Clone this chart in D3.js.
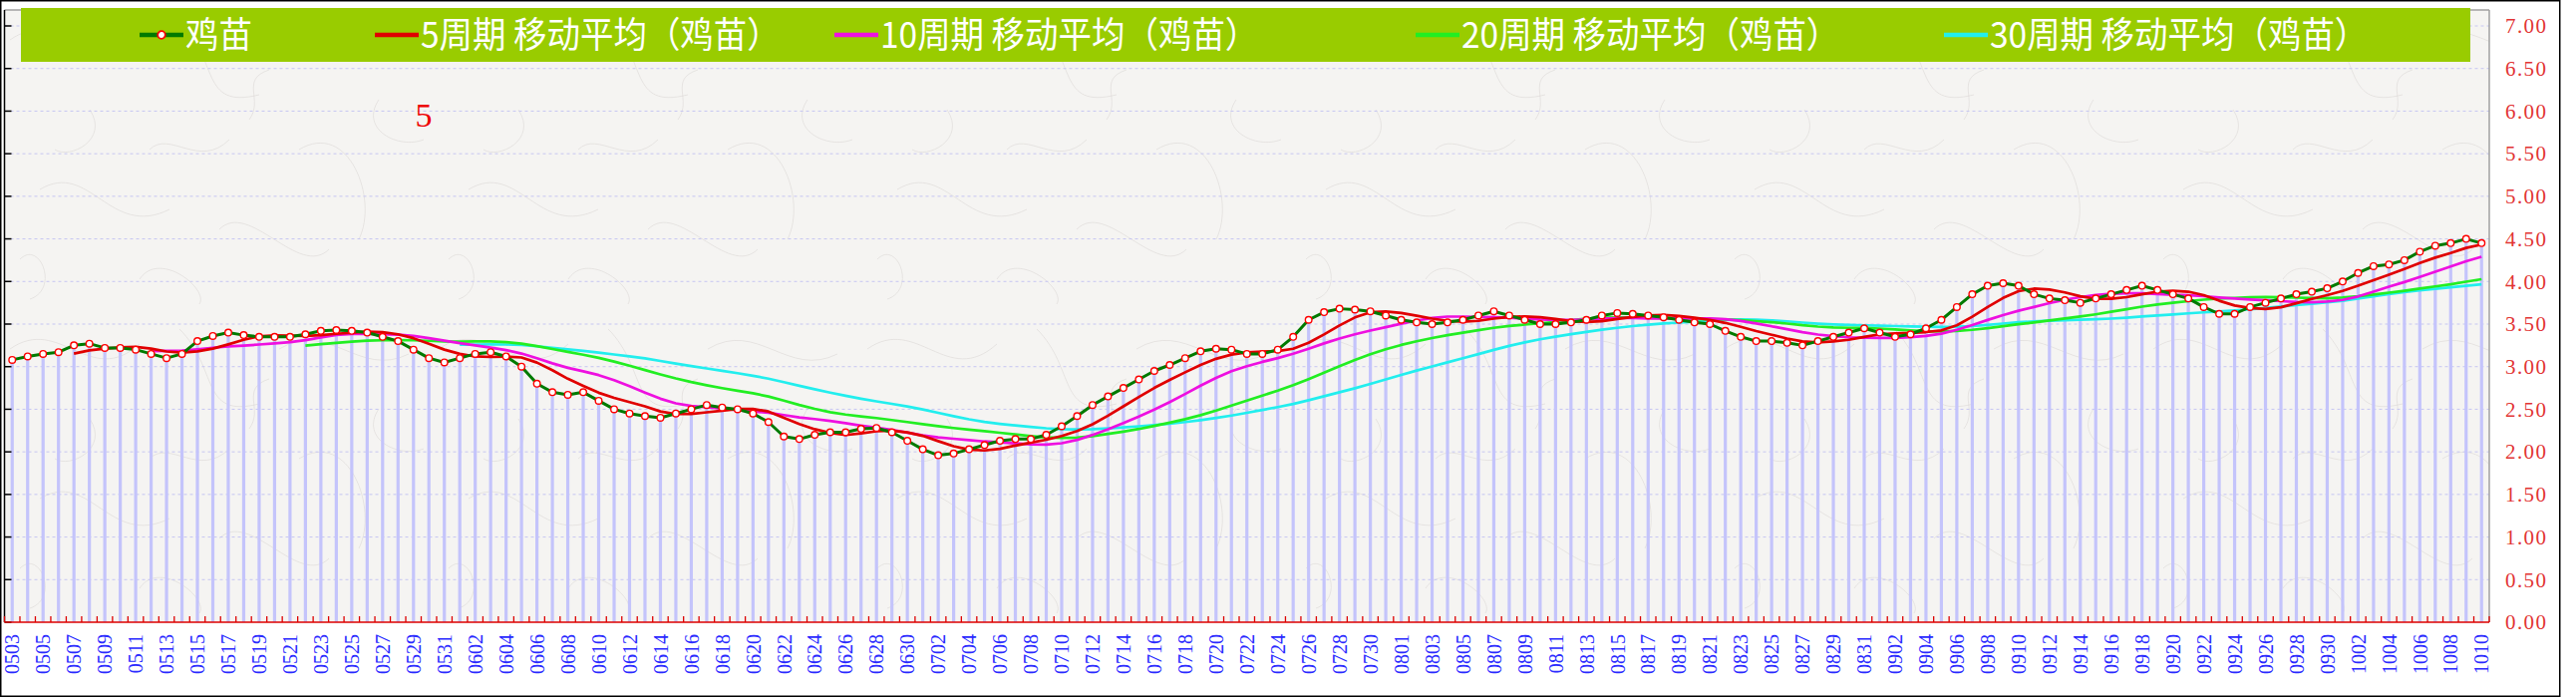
<!DOCTYPE html>
<html><head><meta charset="utf-8">
<script src="https://cdnjs.cloudflare.com/ajax/libs/d3/7.8.5/d3.min.js"></script>
<style>html,body{margin:0;padding:0;background:#fff;}svg{display:block;}</style>
</head><body>
<svg id="chart" width="2584" height="700"></svg>
<script>
// ---------------- DATA ----------------
const dates = [
"0503","0504","0505","0506","0507","0508","0509","0510","0511","0512","0513","0514","0515","0516","0517","0518","0519","0520","0521","0522","0523","0524","0525","0526","0527","0528","0529","0530","0531",
"0601","0602","0603","0604","0605","0606","0607","0608","0609","0610","0611","0612","0613","0614","0615","0616","0617","0618","0619","0620","0621","0622","0623","0624","0625","0626","0627","0628","0629","0630",
"0701","0702","0703","0704","0705","0706","0707","0708","0709","0710","0711","0712","0713","0714","0715","0716","0717","0718","0719","0720","0721","0722","0723","0724","0725","0726","0727","0728","0729","0730","0731",
"0801","0802","0803","0804","0805","0806","0807","0808","0809","0810","0811","0812","0813","0814","0815","0816","0817","0818","0819","0820","0821","0822","0823","0824","0825","0826","0827","0828","0829","0830","0831",
"0901","0902","0903","0904","0905","0906","0907","0908","0909","0910","0911","0912","0913","0914","0915","0916","0917","0918","0919","0920","0921","0922","0923","0924","0925","0926","0927","0928","0929","0930",
"1001","1002","1003","1004","1005","1006","1007","1008","1009","1010"];

const prices = [
3.08,3.12,3.15,3.17,3.25,3.27,3.22,3.22,3.20,3.15,3.10,3.15,3.30,3.36,3.40,3.37,3.35,3.35,3.35,3.38,3.42,3.43,3.42,3.40,3.35,3.30,3.20,3.10,3.05,
3.10,3.15,3.17,3.12,3.00,2.80,2.70,2.67,2.70,2.60,2.50,2.45,2.42,2.40,2.45,2.50,2.55,2.52,2.50,2.45,2.35,2.18,2.15,2.20,2.23,2.23,2.27,2.28,2.23,2.13,
2.03,1.96,1.98,2.03,2.08,2.13,2.15,2.15,2.20,2.30,2.42,2.55,2.65,2.75,2.85,2.95,3.02,3.10,3.18,3.21,3.20,3.15,3.15,3.20,3.35,3.55,3.64,3.68,3.67,3.65,3.60,
3.55,3.52,3.50,3.52,3.55,3.60,3.65,3.60,3.55,3.50,3.50,3.52,3.55,3.60,3.63,3.62,3.60,3.58,3.55,3.52,3.50,3.42,3.35,3.30,3.30,3.28,3.25,3.30,3.35,3.40,3.45,
3.40,3.35,3.38,3.45,3.55,3.70,3.85,3.95,3.98,3.95,3.85,3.80,3.78,3.75,3.80,3.85,3.90,3.95,3.90,3.85,3.80,3.70,3.62,3.62,3.70,3.75,3.80,3.85,3.88,3.92,
4.00,4.10,4.18,4.20,4.25,4.35,4.42,4.45,4.50,4.45];

const seriesName = "鸡苗";
const maPeriods = [5, 10, 20, 30];
const maNames = ["5周期 移动平均（鸡苗）","10周期 移动平均（鸡苗）","20周期 移动平均（鸡苗）","30周期 移动平均（鸡苗）"];
const yTickValues = [0,0.5,1,1.5,2,2.5,3,3.5,4,4.5,5,5.5,6,6.5,7];
const annotationText = "5";

// ---------------- STYLE / LAYOUT ----------------
const W = 2584, H = 700;
const plot = {left: 4.5, right: 2497, top: 10, bottom: 624};
const maColors = ["#e00000", "#ee10e0", "#22ee22", "#22eeee"];
const mainColor = "#007a00";

const svg = d3.select("#chart");

svg.append("rect").attr("x",0).attr("y",0).attr("width",W).attr("height",H).attr("fill","#ffffff");

// paper texture pattern (decorative)
const defs = svg.append("defs");
const pat = defs.append("pattern").attr("id","paper").attr("patternUnits","userSpaceOnUse")
  .attr("width",430).attr("height",310);
pat.append("rect").attr("width",430).attr("height",310).attr("fill","#f5f4f2");
const swirls = [
  "M10,40 C60,5 90,80 140,35", "M180,20 C220,60 200,110 260,95", "M300,150 C350,120 380,200 360,240",
  "M40,190 C90,160 110,240 170,210", "M220,230 C250,200 300,280 330,250", "M90,110 C110,140 70,160 55,150",
  "M280,40 C330,10 360,70 410,45", "M140,280 C160,250 210,290 200,305", "M380,100 C360,130 400,150 425,140",
  "M20,260 C40,240 60,290 30,300", "M150,150 C170,130 200,170 230,140", "M250,120 C265,100 240,80 270,70"
];
pat.selectAll("path").data(swirls).join("path").attr("d",d=>d)
  .attr("fill","none").attr("stroke","#d6d2cf").attr("stroke-width",1).attr("opacity",0.5);

svg.append("rect").attr("x",plot.left).attr("y",plot.top)
  .attr("width",plot.right-plot.left).attr("height",plot.bottom-plot.top).attr("fill","url(#paper)");

// scales
const x = d3.scaleBand().domain(dates).range([plot.left, plot.right]).padding(0);
const y = d3.scaleLinear().domain([0,7]).range([plot.bottom, 26]);
const bw = x.bandwidth();
const cx = d => x(d) + bw/2;

// gridlines
svg.append("g").selectAll("line").data(yTickValues.filter(v=>v>0)).join("line")
  .attr("x1",plot.left).attr("x2",plot.right).attr("y1",d=>y(d)).attr("y2",d=>y(d))
  .attr("stroke","#c6c6f2").attr("stroke-width",1).attr("stroke-dasharray","3,3");

// bars
svg.append("g").selectAll("rect").data(prices).join("rect")
  .attr("x",(d,i)=>cx(dates[i]) - 1.6).attr("width",3.2)
  .attr("y",d=>y(d)).attr("height",d=>y(0)-y(d))
  .attr("fill","#c4c4fb");

// plot border top/right
svg.append("line").attr("x1",plot.left).attr("x2",plot.right).attr("y1",plot.top).attr("y2",plot.top).attr("stroke","#a0a0a0").attr("stroke-width",1.5);
svg.append("line").attr("x1",plot.right).attr("x2",plot.right).attr("y1",plot.top).attr("y2",plot.bottom).attr("stroke","#a0a0a0").attr("stroke-width",1.5);

// left axis
svg.append("line").attr("x1",plot.left).attr("x2",plot.left).attr("y1",plot.top).attr("y2",plot.bottom).attr("stroke","#000").attr("stroke-width",1.5);
svg.append("g").selectAll("line").data(yTickValues).join("line")
  .attr("x1",plot.left).attr("x2",plot.left+7).attr("y1",d=>y(d)).attr("y2",d=>y(d))
  .attr("stroke","#000").attr("stroke-width",1.5);

// moving averages (trendlines of the 鸡苗 series)
function movingAverage(vals, n){
  const out = [];
  for (let i = n-1; i < vals.length; i++){
    out.push({i, v: d3.mean(vals.slice(i-n+1, i+1))});
  }
  return out;
}
const line = d3.line().x(d=>cx(dates[d.i])).y(d=>y(d.v));
const maData = maPeriods.map(n => movingAverage(prices, n));
[3,2,1,0].forEach(k=>{
  svg.append("path").datum(maData[k]).attr("d",line)
    .attr("fill","none").attr("stroke",maColors[k]).attr("stroke-width",2.7).attr("stroke-linejoin","round");
});

// main series
const mainPts = prices.map((v,i)=>({i,v}));
svg.append("path").datum(mainPts).attr("d",line)
  .attr("fill","none").attr("stroke",mainColor).attr("stroke-width",3).attr("stroke-linejoin","round");
svg.append("g").selectAll("circle").data(mainPts).join("circle")
  .attr("cx",d=>cx(dates[d.i])).attr("cy",d=>y(d.v)).attr("r",3.3)
  .attr("fill","#ffffff").attr("stroke","#ff0000").attr("stroke-width",1.4);

// bottom axis (red) with ticks at band boundaries
svg.append("line").attr("x1",plot.left).attr("x2",plot.right).attr("y1",plot.bottom).attr("y2",plot.bottom).attr("stroke","#dd0000").attr("stroke-width",1.5);
const bounds = dates.map(d=>x(d)).concat([plot.right]);
svg.append("g").selectAll("line").data(bounds).join("line")
  .attr("x1",d=>d).attr("x2",d=>d).attr("y1",plot.bottom).attr("y2",plot.bottom-6)
  .attr("stroke","#dd0000").attr("stroke-width",1.3);

// x labels
const xAxis = d3.axisBottom(x).tickSize(0).tickFormat((d,i)=> i%2===0 ? d : "");
const gx = svg.append("g").attr("transform",`translate(0,${plot.bottom})`).call(xAxis);
gx.select(".domain").remove();
gx.selectAll("text")
  .attr("transform","rotate(-90)").attr("x",-12).attr("y",0).attr("dy","0.36em")
  .attr("text-anchor","end")
  .attr("fill","#2a2aff").attr("font-family","'Liberation Serif', serif").attr("font-size",20);

// y labels (right)
const yAxis = d3.axisRight(y).tickValues(yTickValues).tickSize(0).tickPadding(0).tickFormat(d3.format(".2f"));
const gy = svg.append("g").attr("transform","translate(2513,0)").call(yAxis);
gy.select(".domain").remove();
gy.selectAll("text").attr("fill","#e23535").attr("font-family","'Liberation Serif', serif")
  .attr("font-size",21).attr("textLength",41).attr("lengthAdjust","spacing");

// annotation
svg.append("text").attr("x",425).attr("y",127).attr("text-anchor","middle")
  .attr("fill","#ee0000").attr("font-family","'Liberation Serif', serif").attr("font-size",34)
  .text(annotationText);

// legend
const legend = svg.append("g");
legend.append("rect").attr("x",21).attr("y",8).attr("width",2457).attr("height",54).attr("fill","#99cc00");
const legendX = [140, 376, 837, 1420, 1950];
const legendItems = [{name: seriesName, color: mainColor, marker: true}]
  .concat(maNames.map((n,k)=>({name:n, color: maColors[k], marker:false})));
const li = legend.selectAll("g.item").data(legendItems).join("g").attr("class","item")
  .attr("transform",(d,i)=>`translate(${legendX[i]},35)`);
li.append("line").attr("x1",0).attr("x2",44).attr("y1",0).attr("y2",0)
  .attr("stroke",d=>d.color).attr("stroke-width",4.5);
li.filter(d=>d.marker).append("circle").attr("cx",22).attr("cy",0).attr("r",3.8)
  .attr("fill","#fff").attr("stroke","#ff0000").attr("stroke-width",1.8);
li.append("text").attr("transform","translate(46,0) scale(0.93,1)").attr("x",0).attr("y",0).attr("dy","0.37em")
  .attr("fill","#ffffff").attr("font-family","'Noto Sans CJK SC', sans-serif").attr("font-size",36)
  .text(d=>d.name);

// outer frame
svg.append("rect").attr("x",0.75).attr("y",0.75).attr("width",2567).attr("height",697.5)
  .attr("fill","none").attr("stroke","#000").attr("stroke-width",1.5);
</script>
</body></html>
